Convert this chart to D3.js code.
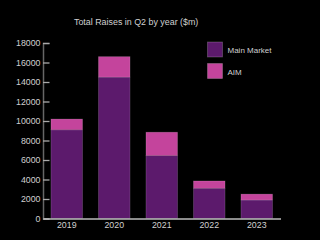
<!DOCTYPE html>
<html><head><meta charset="utf-8">
<script src="https://cdn.jsdelivr.net/npm/d3@7"></script>
<style>html,body{margin:0;padding:0;background:#000;}svg{display:block;}</style>
</head><body>
<script>
const years = ["2019","2020","2021","2022","2023"];
const mainMarket = [9100, 14500, 6450, 3100, 1900];
const aim = [1100, 2100, 2400, 750, 600];
const seriesNames = ["Main Market", "AIM"];
const yTicks = [0,2000,4000,6000,8000,10000,12000,14000,16000,18000];
const title = "Total Raises in Q2 by year ($m)";
const colors = ["#5c1a6c", "#c4449c"];

const W = 320, H = 240;
const FONT = "Liberation Sans, Arial, sans-serif";
const svg = d3.select("body").append("svg").attr("width", W).attr("height", H);
svg.append("rect").attr("width", W).attr("height", H).attr("fill", "#000");

const x = d3.scaleBand().domain(years).range([43, 280.5]).paddingInner(0.335).paddingOuter(0.1675);
const y = d3.scaleLinear().domain([0, 18000]).range([218.5, 43]);

const data = years.map((yr, i) => ({year: yr, "Main Market": mainMarket[i], "AIM": aim[i]}));
const stack = d3.stack().keys(seriesNames)(data);

svg.append("g").selectAll("g").data(stack).join("g")
  .attr("fill", (d, i) => colors[i])
  .selectAll("rect").data(d => d).join("rect")
  .attr("x", d => x(d.data.year))
  .attr("y", d => y(d[1]))
  .attr("width", x.bandwidth())
  .attr("height", d => y(d[0]) - y(d[1]))
  .attr("stroke", "rgba(255,255,255,0.18)")
  .attr("stroke-width", 0.8);

// y axis
const yAxis = svg.append("g").attr("transform", "translate(43,0)")
  .call(d3.axisRight(y).tickValues(yTicks).tickSize(6.5).tickFormat(""));
yAxis.select(".domain").attr("stroke", "#666").attr("stroke-width", 1.5);
yAxis.selectAll(".tick line").attr("stroke", "#aaa").attr("stroke-width", 1.3);
yAxis.selectAll(".tick text").remove();
svg.append("g").selectAll("text").data(yTicks).join("text")
  .attr("x", 40.5).attr("y", d => y(d)).attr("dy", "0.36em")
  .attr("text-anchor", "end").attr("fill", "#d0d0d0")
  .style("font-family", FONT).style("font-size", "8.8px")
  .text(d => d);

// x axis
const xAxis = svg.append("g").attr("transform", "translate(0,218.5)")
  .call(d3.axisBottom(x).tickSize(0).tickPadding(3.5));
xAxis.select(".domain").attr("stroke", "#bbb").attr("stroke-width", 1.3);
xAxis.selectAll(".tick text").attr("fill", "#d0d0d0")
  .style("font-family", FONT).style("font-size", "8.8px");

// title
svg.append("text").attr("x", 74).attr("y", 24.5).attr("fill", "#d0d0d0")
  .style("font-family", FONT).style("font-size", "8.9px")
  .text(title);

// legend
const leg = svg.append("g").selectAll("g").data(seriesNames).join("g")
  .attr("transform", (d, i) => `translate(207.5,${42 + i * 21.5})`);
leg.append("rect").attr("width", 15).attr("height", 15)
  .attr("fill", (d, i) => colors[i]).attr("stroke", "rgba(255,255,255,0.25)").attr("stroke-width", 0.8);
leg.append("text").attr("x", 20).attr("y", 8.5).attr("dy", "0.35em").attr("fill", "#d0d0d0")
  .style("font-family", FONT).style("font-size", "8px")
  .text(d => d);
</script>
</body></html>
